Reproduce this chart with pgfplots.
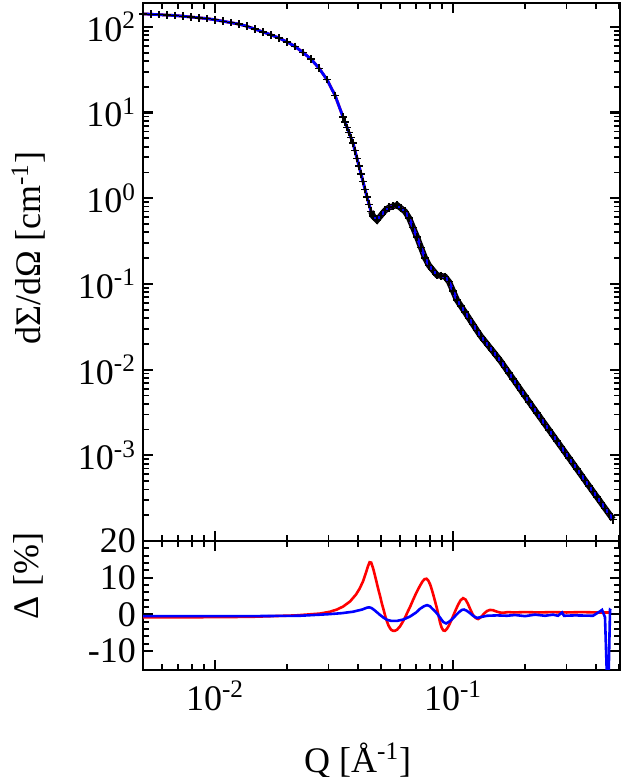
\documentclass[border=0pt]{standalone}
\usepackage{fontspec}
\setmainfont{Liberation Serif}
\usepackage{pgfplots}
\pgfplotsset{compat=1.18}
\usepackage{pgfplotstable}

% measured intensity, low Q (separate crosses)
\pgfplotstableread{
Q I
0.004983 141.9
0.005383 140.3
0.005818 138.8
0.006285 137.2
0.006790 135.7
0.007337 133.1
0.007930 130.3
0.008566 127.6
0.009256 125.0
0.010000 121.0
0.010804 116.4
0.011674 111.9
0.012612 107.6
0.013628 101.6
0.014727 94.1
0.015911 87.2
0.017192 80.8
0.018575 74.1
0.020069 66.7
0.021682 59.1
0.023429 50.2
0.025315 42.1
0.027353 32.9
0.029554 24.2
0.03193 15.88
0.03450 8.885
0.03517 7.725
0.03586 6.716
0.03656 5.838
0.03727 5.077
0.03800 4.414
0.03874 3.587
0.03950 2.914
0.04027 2.369
0.04106 1.925
0.04186 1.564
0.04268 1.271
0.04351 1.033
0.04437 0.851
0.04524 0.701
}\dataA

% measured intensity, high Q (dense band)
\pgfplotstableread{
Q I
0.04524 0.701
0.04612 0.6195
0.04794 0.5562
0.04983 0.633
0.05180 0.7203
0.05383 0.7805
0.05596 0.8066
0.05818 0.8329
0.06047 0.764
0.06285 0.701
0.06534 0.5902
0.06790 0.456
0.07059 0.3522
0.07337 0.2662
0.07627 0.2012
0.07930 0.1641
0.08241 0.1442
0.08566 0.1267
0.08905 0.1240
0.09256 0.1214
0.09620 0.1061
0.10000 0.0828
0.10394 0.0647
0.10804 0.0550
0.11230 0.0468
0.11674 0.0397
0.12134 0.0337
0.12612 0.02855
0.13110 0.02439
0.13628 0.02133
0.14166 0.01864
0.14727 0.01629
0.15308 0.01424
0.15911 0.01239
0.16538 0.01062
0.17192 0.009102
0.17870 0.007801
0.18575 0.006686
0.19307 0.005731
0.20069 0.004912
0.20862 0.004210
0.21682 0.003618
0.22535 0.003112
0.23429 0.002677
0.24357 0.002302
0.25315 0.001980
0.26316 0.001703
0.27353 0.001465
0.28431 0.001260
0.29554 0.001084
0.30720 0.0009324
0.3193 0.0008019
0.3319 0.0006899
0.3450 0.0005934
0.3586 0.0005104
0.3727 0.0004390
0.3874 0.0003777
0.4027 0.0003258
0.4186 0.0002802
0.4351 0.0002410
0.4524 0.0002078
0.4701 0.0001788
}\dataB

% residuals [%]
\pgfplotstableread{
Q D
0.004983 -0.8
0.008650 -0.8
0.01403 -0.7
0.02189 -0.3
0.02762 0.2
0.03042 0.7
0.03250 1.3
0.03450 2.1
0.03692 3.5
0.03912 5.4
0.04050 7.0
0.04186 9.0
0.04310 11.4
0.04390 13.1
0.04459 14.2
0.04530 14.1
0.04612 12.6
0.04690 10.8
0.04771 8.8
0.04850 6.9
0.04936 5.0
0.05030 2.8
0.05130 0.8
0.05200 -0.7
0.05281 -2.0
0.05360 -3.1
0.05435 -3.8
0.05515 -4.3
0.05596 -4.5
0.05700 -4.5
0.05818 -4.2
0.05987 -3.3
0.06130 -2.2
0.06285 -0.9
0.06440 0.6
0.06597 2.0
0.06760 3.6
0.06923 5.1
0.07090 6.5
0.07266 7.8
0.07450 9.0
0.07600 9.6
0.07739 9.7
0.07870 9.2
0.08007 8.2
0.08120 7.0
0.08241 5.6
0.08400 3.6
0.08566 1.5
0.08700 -0.5
0.08819 -2.2
0.08950 -3.6
0.09100 -4.4
0.09256 -4.5
0.09420 -4.0
0.09620 -3.0
0.09903 -1.2
0.1020 0.8
0.1050 2.6
0.1075 3.8
0.1102 4.4
0.1130 4.0
0.1156 2.8
0.1185 1.2
0.12134 -0.2
0.1245 -1.0
0.1274 -1.3
0.1310 -0.8
0.1350 0.2
0.1390 0.9
0.1430 1.2
0.1475 1.1
0.1516 0.8
0.1570 0.5
0.1622 0.4
0.1700 0.6
0.1800 0.5
0.2000 0.6
0.2300 0.5
0.2600 0.6
0.3000 0.5
0.3500 0.6
0.4000 0.5
0.4568 0.5
}\resred

\pgfplotstableread{
Q D
0.004983 -0.5
0.01403 -0.5
0.02276 -0.4
0.02955 0.0
0.0340 0.3
0.0380 0.7
0.0415 1.3
0.0435 1.8
0.0444 1.9
0.0455 1.7
0.0466 1.2
0.0480 0.5
0.0494 -0.2
0.0510 -0.9
0.0528 -1.5
0.0550 -1.8
0.0582 -1.8
0.0620 -1.4
0.0660 -0.6
0.0700 0.5
0.0727 1.5
0.0755 2.2
0.0778 2.5
0.0800 2.2
0.0816 1.6
0.0835 1.0
0.0857 0.2
0.0875 -0.6
0.0891 -1.3
0.0910 -2.1
0.0935 -2.5
0.0965 -2.0
0.1000 -1.1
0.1030 -0.2
0.1060 0.6
0.1090 1.2
0.1112 1.3
0.1140 1.0
0.1179 0.3
0.1220 -0.5
0.1261 -1.0
0.1320 -0.7
0.1390 -0.4
0.1531 -0.3
0.1686 -0.4
0.1822 -0.2
0.2007 -0.5
0.2210 -0.1
0.2436 -0.4
0.2632 -0.1
0.2762 -0.4
0.2871 0.5
0.2926 -0.4
0.3255 -0.3
0.3874 -0.4
0.4146 0.8
0.4228 1.2
0.4351 -0.8
0.4437 -18
0.4502 -18
0.4568 1.2
0.4612 1.0
}\resblue

\begin{document}
\begin{tikzpicture}
\useasboundingbox (0,0) rectangle (311pt,388.5pt);

\begin{axis}[
  at={(71.5pt,118pt)}, anchor=south west,
  scale only axis, width=238.5pt, height=269pt,
  xmode=log, ymode=log,
  xmin=0.00498, xmax=0.503, ymin=1e-4, ymax=190,
  xtick={0.01,0.1},
  minor xtick={0.005,0.006,0.007,0.008,0.009,0.02,0.03,0.04,0.05,0.06,0.07,0.08,0.09,0.2,0.3,0.4,0.5},
  ytick={1e-4,1e-3,1e-2,1e-1,1,10,100},
  yticklabels={,10\textsuperscript{-3},10\textsuperscript{-2},10\textsuperscript{-1},10\textsuperscript{0},10\textsuperscript{1},10\textsuperscript{2}},
  minor ytick={2e-4,3e-4,4e-4,5e-4,6e-4,7e-4,8e-4,9e-4,
    2e-3,3e-3,4e-3,5e-3,6e-3,7e-3,8e-3,9e-3,
    0.02,0.03,0.04,0.05,0.06,0.07,0.08,0.09,
    0.2,0.3,0.4,0.5,0.6,0.7,0.8,0.9,
    2,3,4,5,6,7,8,9,20,30,40,50,60,70,80,90},
  xticklabels={},
  tick align=inside,
  major tick length=4.8pt, minor tick length=3pt,
  major tick style={black,line width=1.1pt},
  minor tick style={black,line width=0.9pt},
  axis line style={line width=1.4pt},
  font=\fontsize{18}{21}\selectfont,
  ylabel={dΣ/dΩ [cm\textsuperscript{-1}]},
  ylabel style={at={(axis description cs:-0.24,0.545)},anchor=center},
]
\addplot[black, only marks, mark=+, mark size=1.9pt, mark options={line width=0.7pt}] table[x=Q,y=I] {\dataA};
\addplot[black, line width=3.0pt, mark=+, mark size=2.1pt, mark options={line width=0.7pt}] table[x=Q,y=I] {\dataB};
\addplot[red, line width=1.4pt] table[x=Q,y=I] {\dataA};
\addplot[red, line width=1.4pt] table[x=Q,y=I] {\dataB};
\addplot[blue, line width=1.4pt] table[x=Q,y=I] {\dataA};
\addplot[blue, line width=1.4pt] table[x=Q,y=I] {\dataB};
\end{axis}

\begin{axis}[
  at={(71.5pt,53.5pt)}, anchor=south west,
  scale only axis, width=238.5pt, height=64.5pt,
  xmode=log,
  xmin=0.00498, xmax=0.503, ymin=-15.2, ymax=20,
  xtick={0.01,0.1},
  minor xtick={0.005,0.006,0.007,0.008,0.009,0.02,0.03,0.04,0.05,0.06,0.07,0.08,0.09,0.2,0.3,0.4,0.5},
  xticklabels={10\textsuperscript{-2},10\textsuperscript{-1}},
  xticklabel style={yshift=-2pt},
  ytick={-10,0,10,20}, yticklabels={-10,0,10,20},
  minor y tick num=4,
  tick align=inside,
  major tick length=4.8pt, minor tick length=3pt,
  major tick style={black,line width=1.1pt},
  minor tick style={black,line width=0.9pt},
  axis line style={line width=1.4pt},
  font=\fontsize{18}{21}\selectfont,
  xlabel={Q [Å\textsuperscript{-1}]},
  xlabel style={at={(axis description cs:0.45,-0.70)},anchor=center},
  ylabel={Δ [\%]},
  ylabel style={at={(axis description cs:-0.24,0.729)},anchor=center},
]
\addplot[red, line width=1.3pt] table[x=Q,y=D] {\resred};
\addplot[blue, line width=1.3pt] table[x=Q,y=D] {\resblue};
\end{axis}
\end{tikzpicture}
\end{document}
